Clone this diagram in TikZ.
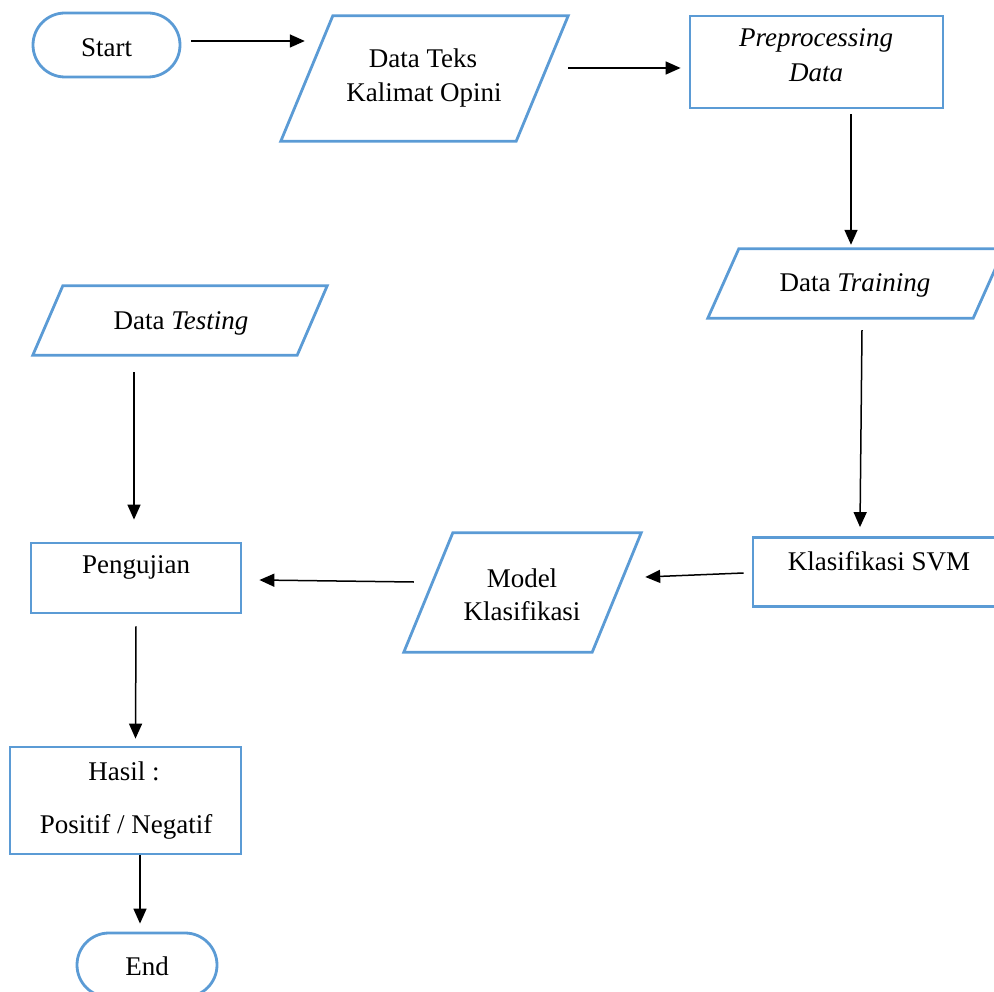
\documentclass[tikz,border=0pt]{standalone}
\usepackage{fontspec}
\setmainfont{Liberation Serif}
\usetikzlibrary{arrows.meta,calc}
\definecolor{wordblue}{HTML}{5B9BD5}
\tikzset{
  txt/.style={anchor=base,inner sep=0pt,font=\fontsize{27pt}{34pt}\selectfont},
  arr/.style={draw=black,line width=1.5pt,-{Triangle[length=15pt,width=13pt]}},
  para/.style={draw=wordblue,line width=2.8pt,line join=miter},
  rbox/.style={draw=wordblue,line width=2.8pt,inner sep=0pt},
  pbox/.style={inner sep=0pt}
}
\begin{document}
\begin{tikzpicture}[x=1pt,y=-1pt]
\useasboundingbox (0,0) rectangle (994,992);
\clip (0,0) rectangle (994,992);
% shapes
\node[rbox,minimum width=147pt,minimum height=64pt,rounded corners=32pt] (start) at (106.5,45) {};
\node[pbox,minimum width=287pt,minimum height=125pt] (teks) at (424.5,78.5) {};
\node[rbox,minimum width=253pt,minimum height=92pt] (prep) at (816.5,62) {};
\node[pbox,minimum width=296pt,minimum height=69pt] (train) at (856,283.5) {};
\node[pbox,minimum width=294pt,minimum height=69pt] (test) at (180,320.5) {};
\node[rbox,minimum width=247pt,minimum height=69pt] (svm) at (876.5,572) {};
\node[pbox,minimum width=237pt,minimum height=119pt] (model) at (522.5,592.5) {};
\node[rbox,minimum width=210pt,minimum height=70pt] (peng) at (136,578) {};
\node[rbox,minimum width=231pt,minimum height=107pt] (hasil) at (125.5,800.5) {};
\node[rbox,minimum width=140pt,minimum height=64pt,rounded corners=32pt] (end) at (147,965) {};
% parallelogram outlines
\draw[para] ($(teks.north west)+(52,0)$) -- (teks.north east) -- ($(teks.south east)+(-52,0)$) -- (teks.south west) -- cycle;
\draw[para] ($(train.north west)+(31,0)$) -- (train.north east) -- ($(train.south east)+(-31,0)$) -- (train.south west) -- cycle;
\draw[para] ($(test.north west)+(30,0)$) -- (test.north east) -- ($(test.south east)+(-30,0)$) -- (test.south west) -- cycle;
\draw[para] ($(model.north west)+(49,0)$) -- (model.north east) -- ($(model.south east)+(-49,0)$) -- (model.south west) -- cycle;
% texts
\node[txt] (tstart) at (106.5,57) {Start};
\node[txt] (tteks1) at (423,68) {Data Teks};
\node[txt] (tteks2) at (424,102) {Kalimat Opini};
\node[txt] (tprep1) at (816,47) {\textit{Preprocessing}};
\node[txt] (tprep2) at (816,82) {\textit{Data}};
\node[txt] (ttrain) at (855,292) {Data \textit{Training}};
\node[txt] (ttest) at (181,330) {Data \textit{Testing}};
\node[txt] (tsvm) at (879,570) {Klasifikasi SVM};
\node[txt] (tmodel1) at (522,587) {Model};
\node[txt] (tmodel2) at (522,620) {Klasifikasi};
\node[txt] (tpeng) at (136,573) {Pengujian};
\node[txt] (thasil1) at (124,780) {Hasil :};
\node[txt] (thasil2) at (126,833) {Positif / Negatif};
\node[txt] (tend) at (147,975) {End};
% connectors
\draw[arr] ($(start.east)+(10,-4)$) -- ($(teks.west)+(24,-37.5)$);
\draw[arr] ($(teks.east)+(0,-10.5)$) -- ($(prep.west)+(-8,6)$);
\draw[arr] ($(prep.south)+(34.5,5)$) -- ($(train.north)+(-5,-4)$);
\draw[arr] ($(train.south)+(6,12)$) -- ($(svm.north)+(-16.5,-9)$);
\draw[arr] ($(svm.west)+(-8,1)$) -- ($(model.east)+(4,-15.5)$);
\draw[arr] ($(model.west)+(10,-10.5)$) -- ($(peng.east)+(17,2)$);
\draw[arr] ($(test.south)+(-46,17)$) -- ($(peng.north)+(-2,-22)$);
\draw[arr] ($(peng.south)+(0,12)$) -- ($(hasil.north)+(10,-7)$);
\draw[arr] ($(hasil.south)+(14.5,0)$) -- ($(end.north)+(-7,-8)$);
\end{tikzpicture}
\end{document}
